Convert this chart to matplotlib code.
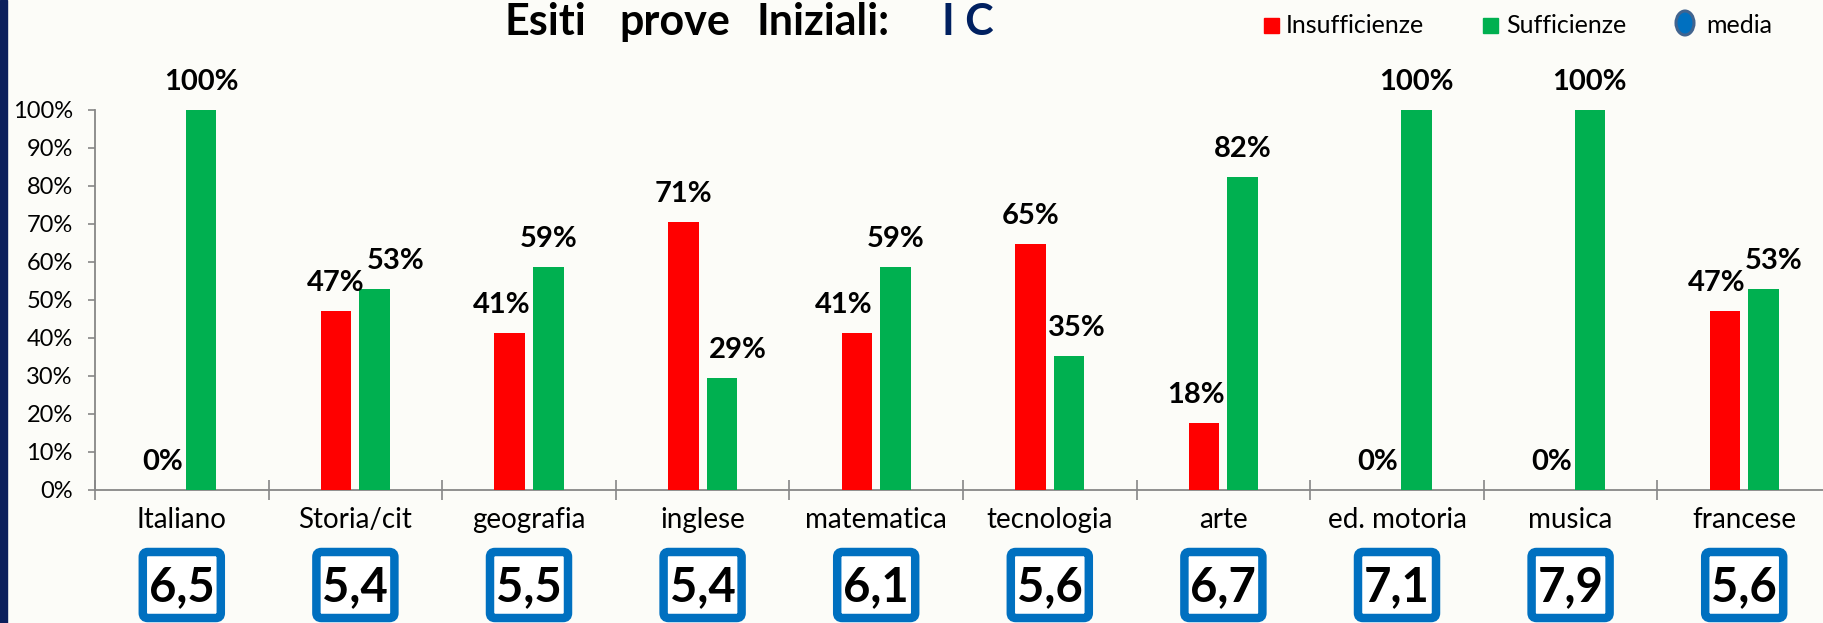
import numpy as np
import matplotlib
matplotlib.use("Agg")
import matplotlib.pyplot as plt
from matplotlib.patches import Rectangle, FancyBboxPatch, Ellipse
from matplotlib.transforms import blended_transform_factory

# ---------------- data ----------------
categories = ["Italiano", "Storia/cit", "geografia", "inglese", "matematica",
              "tecnologia", "arte", "ed. motoria", "musica", "francese"]
insufficienze = [0.0, 47.1, 41.2, 70.6, 41.2, 64.7, 17.6, 0.0, 0.0, 47.1]
sufficienze = [100.0, 52.9, 58.8, 29.4, 58.8, 35.3, 82.4, 100.0, 100.0, 52.9]
medie = [6.5, 5.4, 5.5, 5.4, 6.1, 5.6, 6.7, 7.1, 7.9, 5.6]
yticks = list(range(0, 101, 10))
legend_labels = ["Insufficienze", "Sufficienze", "media"]
title_parts = ["Esiti", "prove", "Iniziali:", "I C"]

# manual horizontal nudges of value labels (pixels), as placed in the original
nudge_red = [0, 0, -8, 0, -13, 0, -8, 0, 0, -8]
nudge_green = [0, 21, 0, 16, 0, 8, 0, 0, 0, 10]

# ---------------- style ----------------
W, H = 1824, 623
BG = "#FCFCF8"
RED = "#FF0000"
GREEN = "#00B050"
BLUE = "#0070C0"
NAVY = "#0B1F5C"
GRAY = "#878787"
plt.rcParams["font.family"] = ["Lato", "DejaVu Sans"]

fig = plt.figure(figsize=(W / 100, H / 100), dpi=100)
fig.patch.set_facecolor(BG)

ax = fig.add_axes([95 / W, 1 - 490 / H, 1736 / W, 380 / H])
ax.set_facecolor(BG)
ax.set_xlim(-0.5, 9.5)
ax.set_ylim(0, 100)

x = np.arange(len(categories))
bw = 0.177
off = 0.111
ax.bar(x - off, insufficienze, width=bw, color=RED, zorder=3)
ax.bar(x + off, sufficienze, width=bw, color=GREEN, zorder=3)

for s in ["top", "right"]:
    ax.spines[s].set_visible(False)
for s in ["left", "bottom"]:
    ax.spines[s].set_color(GRAY)
    ax.spines[s].set_linewidth(1.3)

ax.set_xticks(np.arange(len(categories) + 1) - 0.5)
ax.set_xticklabels([])
ax.tick_params(axis="x", direction="inout", length=14.4, width=1.2, color=GRAY)
ax.set_yticks(yticks)
ax.set_yticklabels([f"{v}%" for v in yticks])
ax.tick_params(axis="y", direction="out", length=5, width=1.2, color=GRAY,
               pad=11, labelsize=17, labelcolor="black")

# category labels
trans = blended_transform_factory(ax.transData, fig.transFigure)
for i, c in enumerate(categories):
    ax.text(i, 1 - 528 / H, c, transform=trans, ha="center", va="baseline",
            fontsize=20, color="black", clip_on=False)

# value labels
for i in range(len(categories)):
    for v, dx, xo in ((insufficienze[i], nudge_red[i], -off),
                      (sufficienze[i], nudge_green[i], off)):
        ax.annotate(f"{round(v):d}%", (i + xo, v), xytext=(dx * 0.72, 20 * 0.72),
                    textcoords="offset points", ha="center", va="baseline",
                    fontsize=21, fontweight="bold", color="black",
                    annotation_clip=False, zorder=5)

# average boxes
for i, m in enumerate(medie):
    cx = ax.transData.transform((i, 0))[0] / W
    box = FancyBboxPatch((cx - 39 / W, 1 - 618 / H), 78 / W, 66 / H,
                         boxstyle=f"round,pad=0,rounding_size={5 / W}",
                         mutation_aspect=W / H, transform=fig.transFigure,
                         fc="white", ec=BLUE, lw=6.1)
    fig.add_artist(box)
    fig.text(cx, 1 - 601 / H, f"{m:.1f}".replace(".", ","), ha="center",
             va="baseline", fontsize=34, fontweight="bold", color="black")

# legend
fig.add_artist(Rectangle((1264 / W, 1 - 33 / H), 15 / W, 15 / H, color=RED,
                         transform=fig.transFigure))
fig.text(1286 / W, 1 - 33 / H, legend_labels[0], va="baseline", fontsize=18)
fig.add_artist(Rectangle((1483 / W, 1 - 33 / H), 15 / W, 15 / H, color=GREEN,
                         transform=fig.transFigure))
fig.text(1506 / W, 1 - 33 / H, legend_labels[1], va="baseline", fontsize=18)
fig.add_artist(Ellipse((1685 / W, 1 - 23 / H), 18 / W, 24 / H, fc=BLUE,
                       ec="#41648F", lw=2.2, transform=fig.transFigure))
fig.text(1706 / W, 1 - 33 / H, legend_labels[2], va="baseline", fontsize=18)

# title
for txt, xl, col in zip(title_parts, [504, 619, 757, 942],
                        ["black", "black", "black", "#002060"]):
    fig.text(xl / W, 1 - 35 / H, txt, ha="left", va="baseline", fontsize=31,
             fontweight="bold", color=col)

# left strip
fig.add_artist(Rectangle((0, 0), 7 / W, 1, color=NAVY, transform=fig.transFigure))

fig.savefig("out.png", dpi=100, facecolor=BG)
